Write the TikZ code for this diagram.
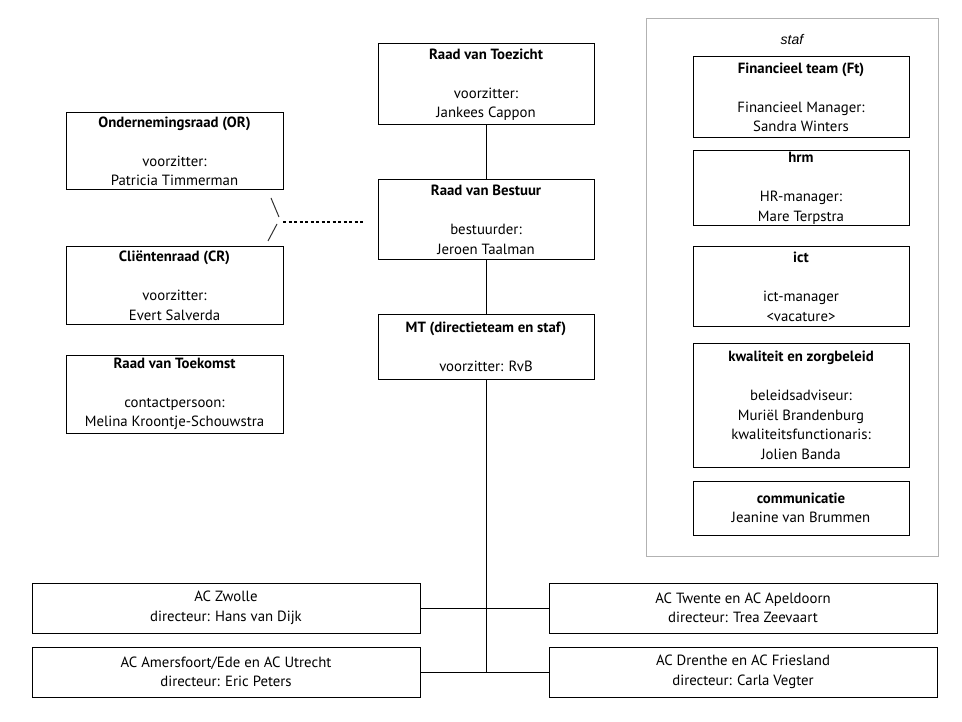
\documentclass[tikz,border=0pt]{standalone}
\usepackage{fontspec}
\setmainfont{PT Sans}
\newfontfamily\helv{Liberation Sans}
\begin{document}
\begin{tikzpicture}[x=1pt,y=-1pt,
  box/.style={draw, line width=1pt, align=center, inner sep=0pt,
    font=\fontsize{14.8}{19.5}\selectfont},
  stafbox/.style={draw=black!30, line width=1pt, inner sep=0pt},
  link/.style={line width=1pt},
  dotlink/.style={line width=2pt, dash pattern=on 3pt off 2.5pt},
  slash/.style={line width=1pt, black!80}]
\useasboundingbox (0,0) rectangle (962,722);
% staf frame
\node[stafbox, minimum width=292pt, minimum height=537pt] (staf) at (792,287.5) {};
\node[font=\helv\itshape\fontsize{14}{16}\selectfont, inner sep=0pt] (staflabel) at (792,39) {staf};
% central column
\node[box, minimum width=216pt, minimum height=81pt] (rvt) at (486,84.5)
  {\textbf{Raad van Toezicht}\\[19.5pt]voorzitter:\\Jankees Cappon};
\node[box, minimum width=216pt, minimum height=80pt] (rvb) at (486,220)
  {\textbf{Raad van Bestuur}\\[19.5pt]bestuurder:\\Jeroen Taalman};
\node[box, minimum width=216pt, minimum height=64pt] (mt) at (486,347)
  {\textbf{MT (directieteam en staf)}\\[19.5pt]voorzitter: RvB};
% left column
\node[box, minimum width=217pt, minimum height=77pt] (or) at (174.5,151.5)
  {\textbf{Ondernemingsraad (OR)}\\[19.5pt]voorzitter:\\Patricia Timmerman};
\node[box, minimum width=217pt, minimum height=78pt] (cr) at (174.5,286)
  {\textbf{Cliëntenraad (CR)}\\[19.5pt]voorzitter:\\Evert Salverda};
\node[box, minimum width=217pt, minimum height=78pt] (rvtk) at (174.5,394)
  {\textbf{Raad van Toekomst}\\[19.5pt]contactpersoon:\\Melina Kroontje-Schouwstra};
% staf boxes
\node[box, minimum width=216pt, minimum height=81pt] (ft) at (801,97.5)
  {\textbf{Financieel team (Ft)}\\[19.5pt]Financieel Manager:\\Sandra Winters};
\node[box, minimum width=216pt, minimum height=75pt] (hrm) at (801,188.5)
  {\textbf{hrm}\\[19.5pt]HR-manager:\\Mare Terpstra};
\node[box, minimum width=216pt, minimum height=80pt] (ict) at (801,287)
  {\textbf{ict}\\[19.5pt]ict-manager\\<vacature>};
\node[box, minimum width=216pt, minimum height=123pt] (kwal) at (801,405.5)
  {\textbf{kwaliteit en zorgbeleid}\\[19.5pt]beleidsadviseur:\\Muriël Brandenburg\\kwaliteitsfunctionaris:\\Jolien Banda};
\node[box, minimum width=216pt, minimum height=54pt] (comm) at (801,508)
  {\textbf{communicatie}\\Jeanine van Brummen};
% AC boxes
\node[box, minimum width=388pt, minimum height=50pt] (zwolle) at (226,608)
  {AC Zwolle\\directeur: Hans van Dijk};
\node[box, minimum width=388pt, minimum height=50pt] (twente) at (743,608)
  {AC Twente en AC Apeldoorn\\directeur: Trea Zeevaart};
\node[box, minimum width=388pt, minimum height=50pt] (amers) at (226,672)
  {AC Amersfoort/Ede en AC Utrecht\\directeur: Eric Peters};
\node[box, minimum width=388pt, minimum height=50pt] (drenthe) at (743,672)
  {AC Drenthe en AC Friesland\\directeur: Carla Vegter};
% connectors
\draw[link] (rvt.south) -- (rvb.north);
\draw[link] (rvb.south) -- (mt.north);
\draw[link] (mt.south) -- (mt.south |- amers.east);
\draw[link] (zwolle.east) -- (twente.west);
\draw[link] (amers.east) -- (drenthe.west);
% dotted advisory link
\coordinate (dA) at (283,222);
\coordinate (dB) at (363,222);
\coordinate (s1a) at (271,198);
\coordinate (s1b) at (279,217);
\coordinate (s2a) at (277,224);
\coordinate (s2b) at (268,241);
\draw[dotlink] (dA) -- (dB);
\draw[slash] (s1a) -- (s1b);
\draw[slash] (s2a) -- (s2b);
\end{tikzpicture}
\end{document}
